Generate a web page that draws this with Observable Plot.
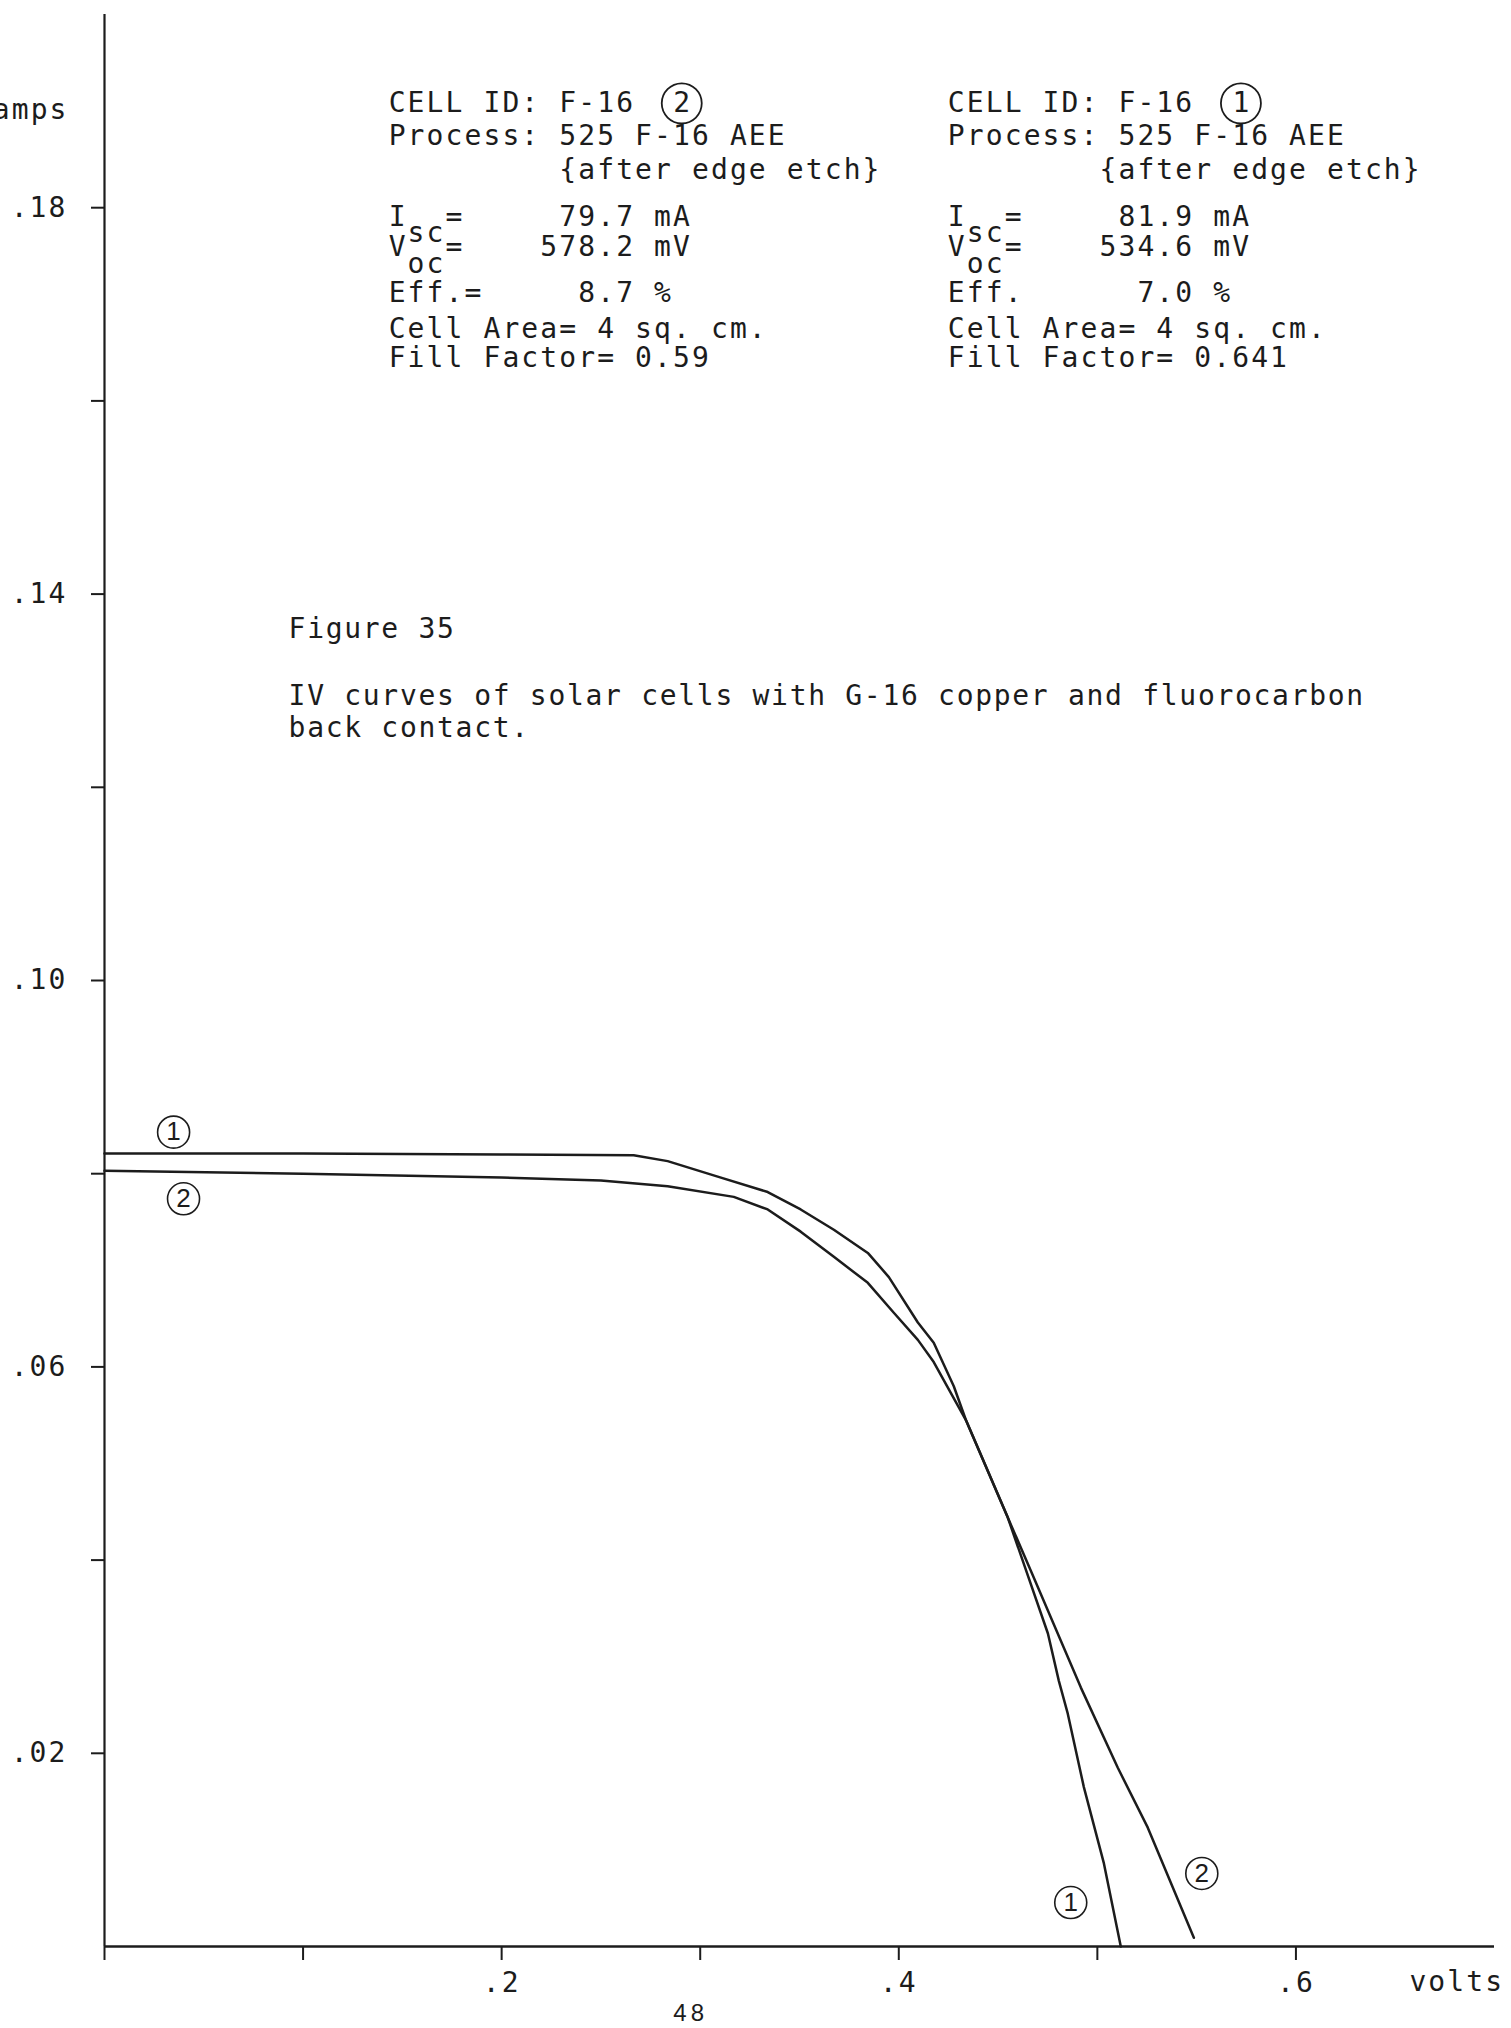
<!DOCTYPE html>
<html><head><meta charset="utf-8">
<script src="https://cdn.jsdelivr.net/npm/d3@7"></script>
<script src="https://cdn.jsdelivr.net/npm/@observablehq/plot@0.6"></script>
<style>
html,body{margin:0;padding:0;background:#fff;}
svg text{white-space:pre;letter-spacing:2.1px;}
</style></head><body><div id="chart"></div>
<script>
// ---- data ----
const cellOneVolts = [0, 0.10, 0.20, 0.2665, 0.2836, 0.3088, 0.334, 0.3506, 0.3673, 0.3844, 0.395, 0.4096, 0.4176, 0.4277, 0.4338, 0.4549, 0.4751, 0.4806, 0.4851, 0.4932, 0.5033, 0.5118];
const cellOneAmps  = [0.0821, 0.0821, 0.0820, 0.0819, 0.0813, 0.0797, 0.0781, 0.0763, 0.0742, 0.0718, 0.0693, 0.0646, 0.0625, 0.0580, 0.0545, 0.0444, 0.0324, 0.0275, 0.0241, 0.0165, 0.0086, 0.0];
const cellTwoVolts = [0, 0.10, 0.20, 0.25, 0.2836, 0.3169, 0.334, 0.3506, 0.3673, 0.3844, 0.3975, 0.4096, 0.4176, 0.4338, 0.4549, 0.4665, 0.4917, 0.5103, 0.5254, 0.5486];
const cellTwoAmps  = [0.0803, 0.0800, 0.0796, 0.0793, 0.0787, 0.0776, 0.0763, 0.0740, 0.0714, 0.0687, 0.0656, 0.0628, 0.0605, 0.0545, 0.0444, 0.0389, 0.0268, 0.0185, 0.0123, 0.0009];

const xTicks = [0, 0.1, 0.2, 0.3, 0.4, 0.5, 0.6];
const xTickLabels = ["", "", ".2", "", ".4", "", ".6"];
const yTicks = [0.02, 0.04, 0.06, 0.08, 0.10, 0.12, 0.14, 0.16, 0.18];
const yTickLabels = [".02", "", ".06", "", ".10", "", ".14", "", ".18"];

const leftLines = ["CELL ID: F-16", "Process: 525 F-16 AEE", "         {after edge etch}", "I  =     79.7 mA", " sc", "V  =    578.2 mV", " oc", "Eff.=     8.7 %", "Cell Area= 4 sq. cm.", "Fill Factor= 0.59"];
const rightLines = ["CELL ID: F-16", "Process: 525 F-16 AEE", "        {after edge etch}", "I  =     81.9 mA", " sc", "V  =    534.6 mV", " oc", "Eff.      7.0 %", "Cell Area= 4 sq. cm.", "Fill Factor= 0.641"];
const lineLevels = [0.1908, 0.18737, 0.18395, 0.17899, 0.17733, 0.17588, 0.17422, 0.17112, 0.16749, 0.16439];
const blockStarts = [0.1431, 0.4247];

const captionLines = ["Figure 35", "IV curves of solar cells with G-16 copper and fluorocarbon", "back contact."];
const captionLevels = [0.13634, 0.1294, 0.12609];
const captionStart = 0.0927;

const headerCircleLabels = ["2", "1"];
const headerCircleVolts  = [0.2907, 0.5723];
const headerCircleAmps   = [0.1908, 0.1908];
const curveCircleLabels = ["1", "2", "1", "2"];
const curveCircleVolts  = [0.0348, 0.0398, 0.4866, 0.5526];
const curveCircleAmps   = [0.0843, 0.0774, 0.00455, 0.00756];

// ---- build tables ----
const cellOne = cellOneVolts.map((v, i) => ({v, a: cellOneAmps[i]}));
const cellTwo = cellTwoVolts.map((v, i) => ({v, a: cellTwoAmps[i]}));
const xLab = new Map(xTicks.map((t, i) => [t, xTickLabels[i]]));
const yLab = new Map(yTicks.map((t, i) => [t, yTickLabels[i]]));
const notes = [];
[leftLines, rightLines].forEach((lines, b) => lines.forEach((t, i) => notes.push({x: blockStarts[b], y: lineLevels[i], t})));
const caption = captionLines.map((t, i) => ({x: captionStart, y: captionLevels[i], t}));
const headerCircles = headerCircleLabels.map((t, i) => ({t, x: headerCircleVolts[i], y: headerCircleAmps[i]}));
const curveCircles = curveCircleLabels.map((t, i) => ({t, x: curveCircleVolts[i], y: curveCircleAmps[i]}));

const ink = "#1c1c1c";
const mono = "DejaVu Sans Mono";

const plot = Plot.plot({
  width: 1511,
  height: 2028,
  marginLeft: 104,
  marginRight: 17,
  marginTop: 14,
  marginBottom: 82,
  style: {fontFamily: mono, color: ink, background: "#fff"},
  x: {domain: [0, 0.7]},
  y: {domain: [0, 0.2]},
  marks: [
    Plot.ruleX([0], {stroke: ink, strokeWidth: 2.2}),
    Plot.ruleY([0], {stroke: ink, strokeWidth: 2.6}),
    Plot.axisX({ticks: xTicks, tickFormat: d => xLab.get(d), tickSize: 14, tickPadding: 12, fontSize: 28, stroke: ink, strokeWidth: 2, label: null}),
    Plot.axisY({ticks: yTicks, tickFormat: d => yLab.get(d), tickSize: 13, tickPadding: 24, fontSize: 28, stroke: ink, strokeWidth: 2, label: null}),
    Plot.line(cellOne, {x: "v", y: "a", stroke: ink, strokeWidth: 2.5}),
    Plot.line(cellTwo, {x: "v", y: "a", stroke: ink, strokeWidth: 2.5}),
    Plot.text(notes, {x: "x", y: "y", text: "t", textAnchor: "start", lineAnchor: "middle", fontSize: 28, fill: ink}),
    Plot.text(caption, {x: "x", y: "y", text: "t", textAnchor: "start", lineAnchor: "middle", fontSize: 28, fill: ink}),
    Plot.dot(headerCircles, {x: "x", y: "y", r: 20, stroke: ink, strokeWidth: 1.8, fill: "none"}),
    Plot.text(headerCircles, {x: "x", y: "y", text: "t", fontSize: 28, fill: ink}),
    Plot.dot(curveCircles, {x: "x", y: "y", r: 16, stroke: ink, strokeWidth: 1.6, fill: "none"}),
    Plot.text(curveCircles, {x: "x", y: "y", text: "t", fontSize: 26, fill: ink, fontFamily: "Liberation Sans"}),
    Plot.text(["amps"], {x: -0.0181, y: 0.19006, text: d => d, textAnchor: "end", lineAnchor: "middle", fontSize: 28, fill: ink}),
    Plot.text(["volts"], {x: 0.681, y: -0.0037, text: d => d, textAnchor: "middle", lineAnchor: "middle", fontSize: 28, fill: ink}),
    Plot.text(["48"], {x: 0.2952, y: -0.00694, text: d => d, textAnchor: "middle", lineAnchor: "middle", fontSize: 24, fill: ink, fontFamily: "Liberation Sans"})
  ]
});
const captionSet = new Set(captionLines);
plot.querySelectorAll("text").forEach(t => {
  t.setAttribute("xml:space", "preserve");
  if (captionSet.has(t.textContent)) t.style.letterSpacing = "1.7px";
  if (t.textContent === "48") t.style.letterSpacing = "4px";
  if (t.textContent === "1" || t.textContent === "2") t.style.letterSpacing = "0px";
});
document.getElementById("chart").appendChild(plot);
</script></body></html>
